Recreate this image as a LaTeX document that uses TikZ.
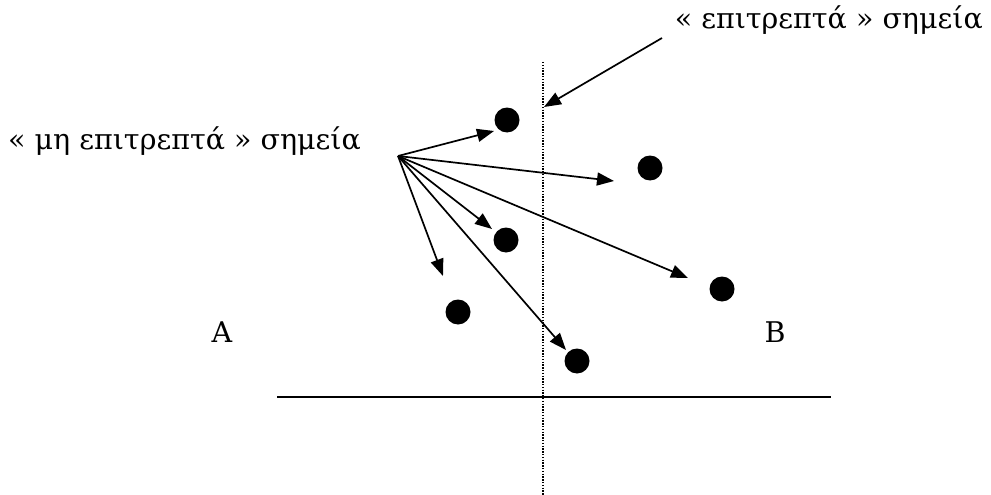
\documentclass[tikz,border=0pt]{standalone}
\usepackage{fontspec}
\setmainfont{DejaVu Serif}
\usetikzlibrary{arrows.meta}
\tikzset{
  dot/.style={circle,fill=black,inner sep=0pt,minimum size=25pt},
  arr/.style={line width=1.7pt,-{Triangle[length=17pt,width=13pt]}},
  lbl/.style={inner sep=0pt,font=\fontsize{28.5}{32}\selectfont},
}
\begin{document}
\begin{tikzpicture}[x=1pt,y=-1pt]
\useasboundingbox (0,0) rectangle (991,495);
% axes
\coordinate (vtop) at (543,62);
\coordinate (vbot) at (543,495);
\draw[line width=1.4pt,dash pattern=on 1.4pt off 1.4pt] (vtop) -- (vbot);
\coordinate (hl) at (277,397);
\coordinate (hr) at (831,397);
\draw[line width=2.2pt] (hl) -- (hr);
% dots
\node[dot] (d1) at (507,120) {};
\node[dot] (d2) at (650,168) {};
\node[dot] (d3) at (506,240) {};
\node[dot] (d4) at (458,312) {};
\node[dot] (d5) at (722,289) {};
\node[dot] (d6) at (577,361) {};
% labels
\node[lbl,anchor=west] (nal) at (8,141) {« μη επιτρεπτά » σημεία};
\node[lbl,anchor=east] (al) at (983,20) {« επιτρεπτά » σημεία};
\node[lbl] (A) at (222,332) {A};
\node[lbl] (B) at (775,332) {B};
% arrows
\coordinate (s) at (398,156);
\coordinate (t1) at (494,131);
\coordinate (t2) at (614,181);
\coordinate (t3) at (492,229);
\coordinate (t4) at (443,276);
\coordinate (t5) at (566,350);
\coordinate (t6) at (688,278);
\foreach \t in {t1,t2,t3,t4,t5,t6} \draw[arr] (s) -- (\t);
\coordinate (as) at (662,38);
\coordinate (at) at (544,107);
\draw[arr] (as) -- (at);
\end{tikzpicture}
\end{document}
